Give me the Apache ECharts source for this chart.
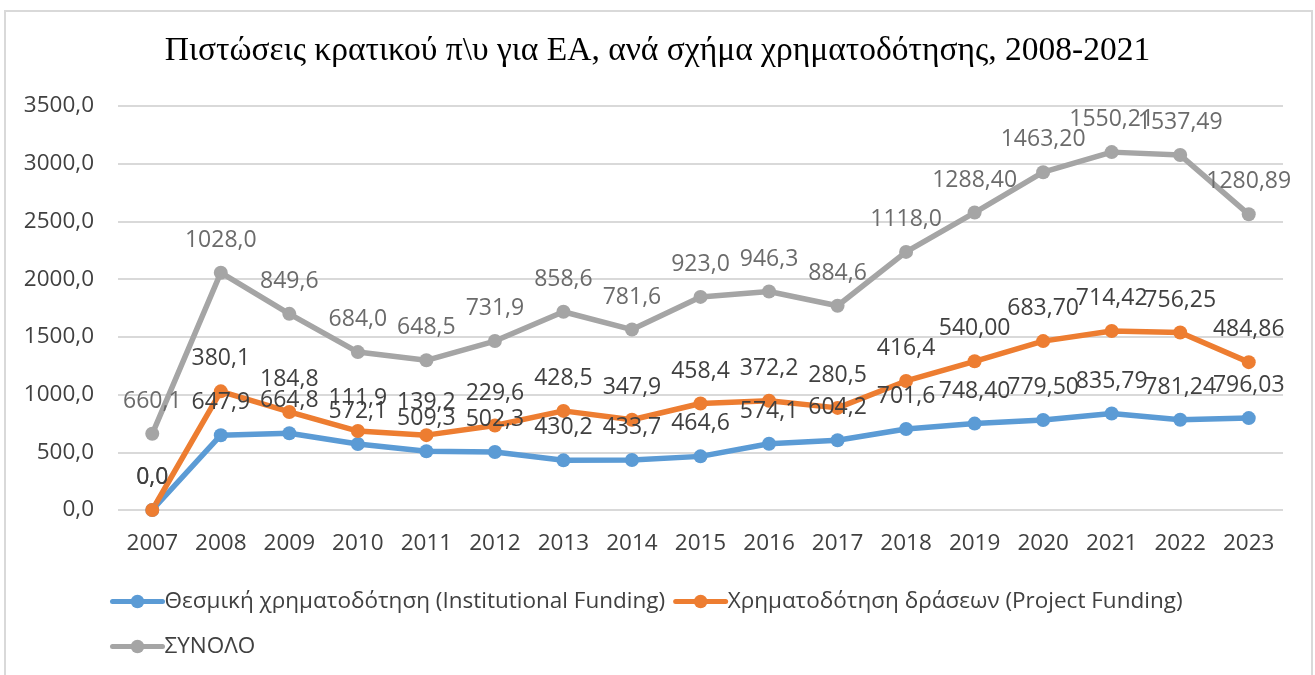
<!DOCTYPE html>
<html>
<head>
<meta charset="utf-8">
<script src="https://cdn.jsdelivr.net/npm/echarts@6/dist/echarts.min.js"></script>
<style>
  html, body { margin: 0; padding: 0; background: #fff; }
  #main { width: 1315px; height: 675px; }
</style>
</head>
<body>
<div id="main"></div>
<script>
// years on the x axis
var years = ['2007', '2008', '2009', '2010', '2011', '2012', '2013', '2014', '2015',
  '2016', '2017', '2018', '2019', '2020', '2021', '2022', '2023'];
// decimals shown in the data labels for each year
var labelDecimals = [1, 1, 1, 1, 1, 1, 1, 1, 1, 1, 1, 1, 2, 2, 2, 2, 2];

var institutional = [0.0, 647.9, 664.8, 572.1, 509.3, 502.3, 430.2, 433.7, 464.6,
  574.1, 604.2, 701.6, 748.40, 779.50, 835.79, 781.24, 796.03];
var project = [0.0, 380.1, 184.8, 111.9, 139.2, 229.6, 428.5, 347.9, 458.4,
  372.2, 280.5, 416.4, 540.00, 683.70, 714.42, 756.25, 484.86];
var total = [660.1, 1028.0, 849.6, 684.0, 648.5, 731.9, 858.6, 781.6, 923.0,
  946.3, 884.6, 1118.0, 1288.40, 1463.20, 1550.21, 1537.49, 1280.89];

var seriesNames = [
  'Θεσμική χρηματοδότηση (Institutional Funding)',
  'Χρηματοδότηση δράσεων (Project Funding)',
  'ΣΥΝΟΛΟ'
];

var font = 'Open Sans';

function fmtLabel(p) {
  return p.value.toFixed(labelDecimals[p.dataIndex]).replace('.', ',');
}

function makeSeries(name, data, color, labelColor) {
  return {
    name: name,
    type: 'line',
    stack: 'total',
    data: data,
    symbol: 'circle',
    symbolSize: 14,
    lineStyle: { width: 5.5, color: color, cap: 'round', join: 'round' },
    itemStyle: { color: color },
    label: {
      show: true,
      position: 'top',
      distance: 14,
      formatter: fmtLabel,
      fontFamily: font,
      fontSize: 23,
      color: labelColor
    },
    emphasis: { disabled: true },
    animation: false
  };
}

var myChart = echarts.init(document.getElementById('main'));

var legendBase = {
  left: 105,
  itemWidth: 50,
  itemHeight: 17,
  itemGap: 8,
  lineStyle: { width: 5 },
  textStyle: { fontFamily: font, fontSize: 22.5, color: '#404040', padding: [0, 0, 0, -3] }
};

var option = {
  backgroundColor: '#fff',
  graphic: [{
    type: 'rect',
    shape: { x: 5, y: 11, width: 1307, height: 680 },
    style: { fill: 'none', stroke: '#d9d9d9', lineWidth: 2 },
    silent: true
  }],
  title: {
    text: 'Πιστώσεις κρατικού π\\υ για ΕΑ, ανά σχήμα χρηματοδότησης, 2008-2021',
    left: 'center',
    top: 29,
    textStyle: {
      fontFamily: 'Liberation Serif',
      fontWeight: 'normal',
      fontSize: 33.5,
      color: '#000'
    }
  },
  legend: [
    Object.assign({}, legendBase, { data: [seriesNames[0], seriesNames[1]], top: 585 }),
    Object.assign({}, legendBase, { data: [seriesNames[2]], top: 630 })
  ],
  grid: {
    left: 118,
    right: 32,
    top: 106,
    bottom: 165,
    containLabel: false
  },
  xAxis: {
    type: 'category',
    data: years,
    boundaryGap: true,
    axisLine: { show: false },
    axisTick: { show: false },
    axisLabel: { fontFamily: font, fontSize: 22.5, color: '#404040', margin: 22 }
  },
  yAxis: {
    type: 'value',
    min: 0,
    max: 3500,
    interval: 500,
    axisLine: { show: false },
    axisTick: { show: false },
    splitLine: { lineStyle: { color: '#d9d9d9', width: 2 } },
    axisLabel: {
      fontFamily: font,
      fontSize: 22.5,
      color: '#404040',
      margin: 24,
      formatter: function (v) { return v.toFixed(1).replace('.', ','); }
    }
  },
  series: [
    makeSeries(seriesNames[0], institutional, '#5b9bd5', '#404040'),
    makeSeries(seriesNames[1], project, '#ed7d31', '#404040'),
    makeSeries(seriesNames[2], total, '#a5a5a5', '#6b6b6b')
  ]
};

myChart.setOption(option);
</script>
</body>
</html>
